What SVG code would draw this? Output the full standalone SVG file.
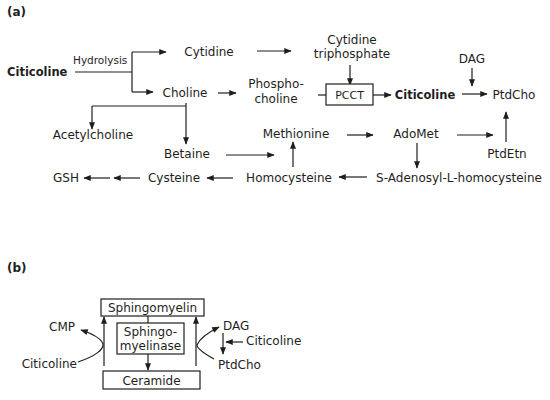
<svg xmlns="http://www.w3.org/2000/svg" width="550" height="400" viewBox="0 0 550 400">
<defs>
<marker id="ah" viewBox="0 0 10 8" refX="9" refY="4" markerWidth="8" markerHeight="6" markerUnits="userSpaceOnUse" orient="auto">
<path d="M0,0 L10,4 L0,8 Z" fill="#1e1e1e"/>
</marker>
</defs>
<style>
text{font-family:"DejaVu Sans","Verdana",sans-serif;font-size:12px;fill:#1e1e1e}
.b{font-weight:bold}
.m{text-anchor:middle}
.e{text-anchor:end}
.s{font-size:10.5px}
.box{fill:#fff;stroke:#1e1e1e;stroke-width:1.2}
#connectors path{fill:none;stroke:#1e1e1e;stroke-width:1.2}
.a{marker-end:url(#ah)}
</style>
<rect width="550" height="400" fill="#fff"/>
<text x="7" y="16" class="b">(a)</text>
<text x="7" y="272" class="b">(b)</text>

<g id="connectors">
<path d="M75,72 H132"/>
<path d="M132,52 V92"/>
<path class="a" d="M132,52 H166"/>
<path class="a" d="M132,92 H153"/>
<path class="a" d="M257,51 H291"/>
<path class="a" d="M218,93 H236"/>
<path class="a" d="M350,65 V85"/>
<path d="M318,95 H326"/>
<path class="a" d="M373,95 H391"/>
<path class="a" d="M462,94 H487"/>
<path class="a" d="M472,68 V86"/>
<path class="a" d="M186,103 V144"/>
<path d="M92,106 H186"/>
<path class="a" d="M92,106 V129"/>
<path class="a" d="M226,155 H274"/>
<path class="a" d="M293,167 V142"/>
<path class="a" d="M347,135 H373"/>
<path class="a" d="M457,135 H493"/>
<path class="a" d="M417,143 V168"/>
<path class="a" d="M506,142 V112"/>
<path class="a" d="M367,177 H339"/>
<path class="a" d="M233,178 H207"/>
<path class="a" d="M140,178 H114"/>
<path class="a" d="M110,178 H84"/>
<path d="M148,316 V323"/>
<path class="a" d="M148,354 V370"/>
<path class="a" d="M104,366 V317"/>
<path class="a" d="M196,366 V317"/>
<path class="a" d="M78,362 C96,356 104,349 103,344 C101,338 93,334 81,330"/>
<path class="a" d="M214,359 C205,354 197,349 197,345 C199,340 207,333 219,327"/>
<path class="a" d="M223,333 V354"/>
<path class="a" d="M243,342 H226"/>
</g>

<g id="n-citicoline1"><text x="7" y="76" class="b" style="font-size:11.5px">Citicoline</text></g>
<g id="n-hydrolysis"><text x="73" y="64" class="s">Hydrolysis</text></g>
<g id="n-cytidine"><text x="209" y="56" class="m">Cytidine</text></g>
<g id="n-choline"><text x="185" y="97" class="m">Choline</text></g>
<g id="n-phosphocholine"><text x="276" y="88" class="m">Phospho-</text><text x="276" y="103" class="m">choline</text></g>
<g id="n-ctp"><text x="352" y="44" class="m">Cytidine</text><text x="352" y="58" class="m">triphosphate</text></g>
<g id="n-pcct"><rect class="box" x="326" y="84" width="47" height="21"/><text x="349.5" y="99" class="m" style="font-size:11px">PCCT</text></g>
<g id="n-citicoline2"><text x="425" y="99" class="m b" style="font-size:11.5px">Citicoline</text></g>
<g id="n-dag1"><text x="472" y="63" class="m">DAG</text></g>
<g id="n-ptdcho1"><text x="514" y="99" class="m">PtdCho</text></g>
<g id="n-acetylcholine"><text x="93" y="139" class="m">Acetylcholine</text></g>
<g id="n-methionine"><text x="296" y="138" class="m">Methionine</text></g>
<g id="n-adomet"><text x="416" y="138" class="m">AdoMet</text></g>
<g id="n-betaine"><text x="187" y="158" class="m">Betaine</text></g>
<g id="n-ptdetn"><text x="507" y="158" class="m">PtdEtn</text></g>
<g id="n-gsh"><text x="66" y="182" class="m">GSH</text></g>
<g id="n-cysteine"><text x="174" y="182" class="m">Cysteine</text></g>
<g id="n-homocysteine"><text x="289" y="182" class="m">Homocysteine</text></g>
<g id="n-sah"><text x="459" y="182" class="m">S-Adenosyl-L-homocysteine</text></g>

<g id="n-sphingomyelin"><rect class="box" x="101" y="299" width="103" height="17"/><text x="152.5" y="312" class="m">Sphingomyelin</text></g>
<g id="n-sphingomyelinase"><rect class="box" x="117" y="323" width="67" height="31"/><text x="150.5" y="336" class="m">Sphingo-</text><text x="150.5" y="350" class="m">myelinase</text></g>
<g id="n-ceramide"><rect class="box" x="103" y="371" width="97" height="18"/><text x="151.5" y="385" class="m">Ceramide</text></g>
<g id="n-cmp"><text x="62" y="331" class="m">CMP</text></g>
<g id="n-citicoline3"><text x="77" y="368" class="e">Citicoline</text></g>
<g id="n-dag2"><text x="223" y="330">DAG</text></g>
<g id="n-ptdcho2"><text x="218" y="369">PtdCho</text></g>
<g id="n-citicoline4"><text x="246" y="345">Citicoline</text></g>
</svg>
